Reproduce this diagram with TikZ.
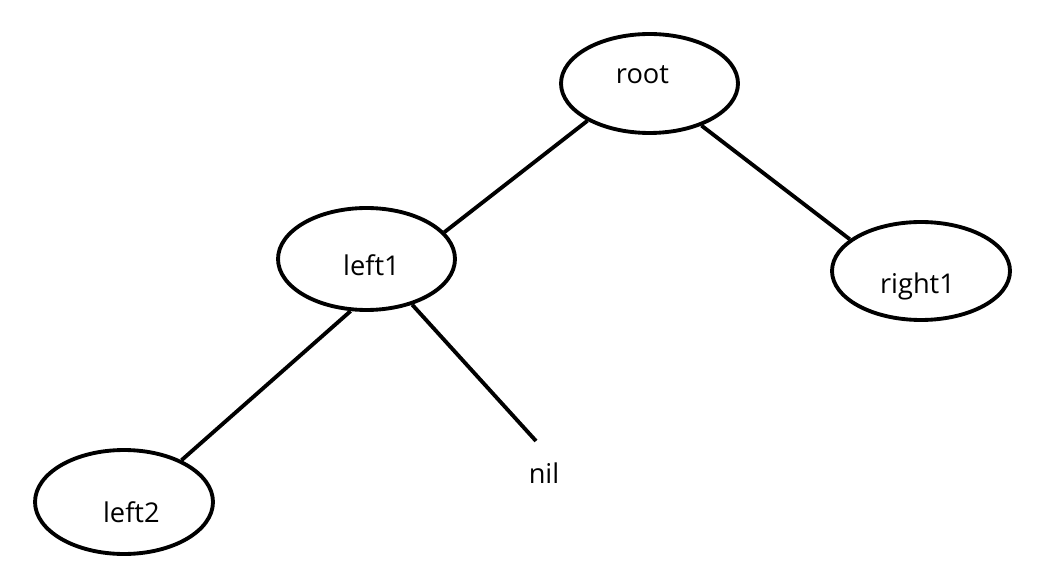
\documentclass[tikz,border=0pt]{standalone}
\usepackage{fontspec}
\setmainfont{Open Sans}
\usetikzlibrary{shapes.geometric}
\begin{document}
\begin{tikzpicture}[x=0.02cm,y=-0.02cm,
  tnode/.style={draw=black, ellipse, line width=2.2pt, inner sep=0pt, fill=white},
  lbl/.style={anchor=base, font=\fontsize{15.5}{18}\selectfont, inner sep=0pt},
  edge/.style={draw=black, line width=2.2pt}]
\useasboundingbox[fill=white] (0,0) rectangle (1061,587);
\node[tnode, minimum width=3.54cm, minimum height=1.98cm,
  label={[lbl, name=roott, xshift=-4pt, yshift=5.3pt]center:root}] (root) at (649.5,83.5) {};
\node[tnode, minimum width=3.54cm, minimum height=2.04cm,
  label={[lbl, name=left1t, xshift=2.8pt, yshift=-3.4pt]center:left1}] (left1) at (366.5,259) {};
\node[tnode, minimum width=3.56cm, minimum height=1.96cm,
  label={[lbl, name=right1t, xshift=-2pt, yshift=-8.5pt]center:right1}] (right1) at (921,271) {};
\node[tnode, minimum width=3.56cm, minimum height=2.08cm,
  label={[lbl, name=left2t, xshift=4.2pt, yshift=-5.8pt]center:left2}] (left2) at (124,502) {};
\node[lbl] (nil) at (544,483) {nil};
\coordinate (nilend) at (536,441);
\draw[edge] (root.211) -- (left1.19);
\draw[edge] (root.321) -- (right1.156);
\draw[edge] (left1.253) -- (left2.36);
\draw[edge] (left1.315) -- (nilend);
\end{tikzpicture}
\end{document}
